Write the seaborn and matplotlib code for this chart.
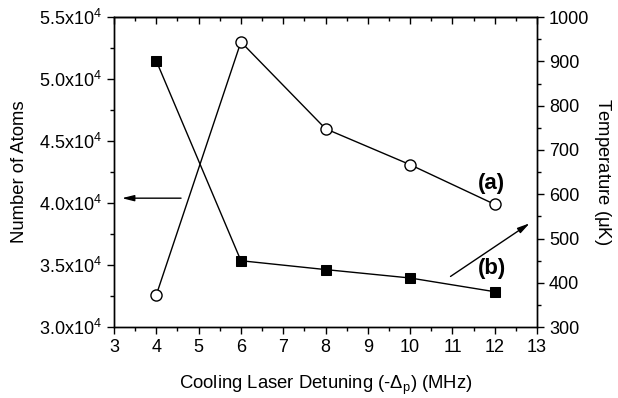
import matplotlib
matplotlib.use("Agg")
import matplotlib.pyplot as plt
from matplotlib.ticker import MultipleLocator, FuncFormatter
import seaborn as sns
import pandas as pd

detuning = [4, 6, 8, 10, 12]
atoms = [3.26e4, 5.30e4, 4.60e4, 4.31e4, 3.99e4]
temperature = [901, 450, 430, 411, 380]

sns.set_theme(style="ticks")
plt.rcParams['font.family'] = ['Liberation Sans', 'DejaVu Sans']
plt.rcParams['mathtext.fontset'] = 'custom'
plt.rcParams['mathtext.rm'] = 'Liberation Sans'
plt.rcParams['mathtext.it'] = 'Liberation Sans:italic'
plt.rcParams['mathtext.bf'] = 'Liberation Sans:bold'
plt.rcParams['text.color'] = 'black'
plt.rcParams['axes.labelcolor'] = 'black'

df = pd.DataFrame({"det": detuning, "atoms": atoms, "temp": temperature})

fig = plt.figure(figsize=(6.18, 3.98), dpi=100)
ax = fig.add_axes([0.1845, 0.178, 0.6845, 0.779])
ax2 = ax.twinx()

sns.lineplot(data=df, x="det", y="atoms", ax=ax, color="black", lw=1,
             marker="o", markersize=8, markerfacecolor="white",
             markeredgecolor="black", markeredgewidth=1)
sns.lineplot(data=df, x="det", y="temp", ax=ax2, color="black", lw=1,
             marker="s", markersize=7, markerfacecolor="black",
             markeredgecolor="black")

ax.set_xlim(3, 13)
ax.set_ylim(3.0e4, 5.5e4)
ax2.set_ylim(300, 1000)

fs = 13
lfs = 13.3
ax.xaxis.set_major_locator(MultipleLocator(1))
ax.xaxis.set_minor_locator(MultipleLocator(0.5))
ax.yaxis.set_major_locator(MultipleLocator(0.5e4))
ax.yaxis.set_minor_locator(MultipleLocator(0.25e4))
ax2.yaxis.set_major_locator(MultipleLocator(100))
ax2.yaxis.set_minor_locator(MultipleLocator(50))

ax.yaxis.set_major_formatter(FuncFormatter(lambda v, p: r"%.1fx10$^{\mathregular{4}}$" % (v / 1e4)))

for a in (ax, ax2):
    for s in a.spines.values():
        s.set_linewidth(1)
        s.set_color("black")

ax.tick_params(axis="x", which="both", direction="out", bottom=True, top=False, labelsize=fs, colors="black", width=1)
ax.tick_params(axis="x", which="major", length=5)
ax.tick_params(axis="x", which="minor", length=3)
ax.tick_params(axis="y", which="both", direction="out", labelsize=fs, colors="black", width=1)
ax.tick_params(axis="y", which="major", length=5)
ax.tick_params(axis="y", which="minor", length=3)
ax2.tick_params(axis="y", which="both", direction="out", labelsize=fs, colors="black", width=1)
ax2.tick_params(axis="y", which="major", length=5)
ax2.tick_params(axis="y", which="minor", length=3)

# top mirrored ticks (inward)
secx = ax.secondary_xaxis("top")
secx.xaxis.set_major_locator(MultipleLocator(1))
secx.xaxis.set_minor_locator(MultipleLocator(0.5))
secx.tick_params(axis="x", which="both", direction="in", labeltop=False, width=1, colors="black")
secx.tick_params(axis="x", which="major", length=5)
secx.tick_params(axis="x", which="minor", length=3)
secx.spines["top"].set_linewidth(1)

ax.set_xlabel(r"Cooling Laser Detuning (-$\mathregular{\Delta_p}$) (MHz)", fontsize=lfs, labelpad=13)
ax.set_ylabel("Number of Atoms", fontsize=lfs, labelpad=8)
ax2.set_ylabel(r"Temperature ($\mathregular{\mu}$K)", fontsize=lfs, rotation=270, labelpad=17)

ax.annotate("", xy=(3.12, 4.04e4), xytext=(4.65, 4.04e4),
            arrowprops=dict(arrowstyle="-|>,head_length=0.6,head_width=0.15", color="black", lw=1))
ax2.annotate("", xy=(12.88, 538), xytext=(10.9, 411),
             arrowprops=dict(arrowstyle="-|>,head_length=0.6,head_width=0.15", color="black", lw=1))

ax2.text(11.93, 625, "(a)", fontsize=16, fontweight="bold", ha="center", va="center")
ax2.text(11.93, 433, "(b)", fontsize=16, fontweight="bold", ha="center", va="center")

fig.savefig("out.png", dpi=100)
